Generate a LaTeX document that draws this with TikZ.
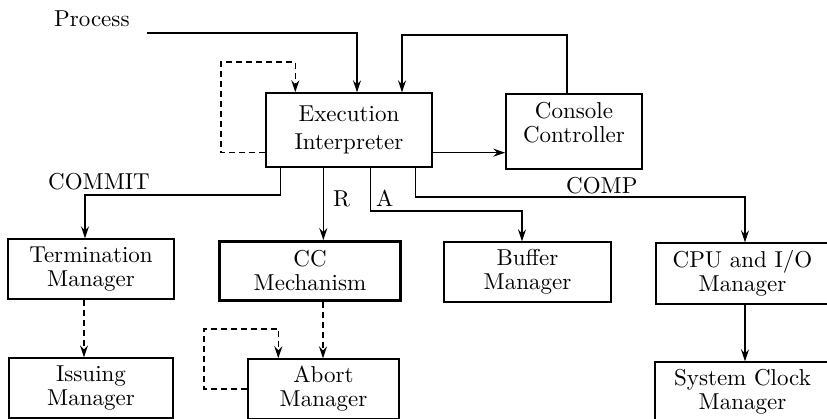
\documentclass[tikz,border=0pt]{standalone}
\usepackage{fontspec}
\setmainfont{lmroman10-regular}[Extension=.otf,BoldFont=lmroman10-bold]
\usetikzlibrary{arrows.meta,calc}
\begin{document}
\begin{tikzpicture}[x=1pt,y=-1pt,
  every node/.style={font=\fontsize{23}{24}\selectfont},
  box/.style={draw,line width=1.4pt,inner sep=0pt,align=center},
  lbl/.style={inner sep=0pt,anchor=base west},
  arr/.style={line width=1.4pt,-{Stealth[length=12pt,width=8pt,inset=4pt]}},
  darr/.style={arr,dash pattern=on 6pt off 4pt}]
\useasboundingbox (0,0) rectangle (827,419);
\clip (0,0) rectangle (827,419);
% boxes
\node[box,minimum width=166pt,minimum height=74pt,font=\fontsize{23}{28}\selectfont] (ei) at (349,130) {Execution\\Interpreter};
\node[box,minimum width=136pt,minimum height=75pt] (cc) at (574,131.5) {};
\node[align=center,inner sep=0pt] (cct) at (574,123) {Console\\Controller};
\node[box,minimum width=166pt,minimum height=60pt] (tm) at (91,269) {Termination\\Manager};
\node[box,line width=2.8pt,minimum width=181pt,minimum height=59pt] (ccm) at (310,271) {CC\\Mechanism};
\node[box,minimum width=167pt,minimum height=60pt] (bm) at (527.5,272) {Buffer\\Manager};
\node[box,minimum width=173pt,minimum height=61pt] (cpu) at (742.5,273.5) {CPU and I/O\\Manager};
\node[box,minimum width=164pt,minimum height=60pt] (im) at (91,388) {Issuing\\Manager};
\node[box,minimum width=151pt,minimum height=60pt] (am) at (323.5,389) {Abort\\Manager};
\node[box,minimum width=175pt,minimum height=60pt] (scm) at (742.5,392) {System Clock\\Manager};
% labels
\node[lbl] (proc) at (54,27) {Process};
\node[lbl] (commit) at (48,190) {COMMIT};
\node[lbl] (rl) at (333,207) {R};
\node[lbl] (al) at (376,207) {A};
\node[lbl] (comp) at (566,194) {COMP};
% top connectors
\coordinate (pin) at (147,33);
\draw[arr] (pin) -| ($(ei.north)+(8,0)$);
\coordinate (c0) at ($(cc.north)+(-7,0)$);
\coordinate (c1) at (402,35);
\draw[arr] (c0) |- (c1) -- (c1 |- ei.north);
\coordinate (d0) at ($(ei.south west)+(0,-15)$);
\coordinate (d1) at (221,62);
\coordinate (d2) at ($(ei.north west)+(30,0)$);
\draw[darr] (d0) -| (d1) -| (d2);
\coordinate (e1) at ($(ei.south east)+(0,-15)$);
\draw[arr] (e1) -- (e1 -| cc.west);
% lower connectors
\coordinate (m0) at ($(ei.south west)+(15,0)$);
\coordinate (m1) at (85,195);
\draw[arr] (m0) |- (m1) -- (m1 |- tm.north);
\coordinate (r0) at ($(ei.south west)+(58,0)$);
\draw[arr] (r0) -- (r0 |- ccm.north);
\coordinate (a0) at ($(ei.south west)+(105,0)$);
\coordinate (a1) at (522,211);
\draw[arr] (a0) |- (a1) -- (a1 |- bm.north);
\coordinate (p0) at ($(ei.south west)+(150,0)$);
\coordinate (p1) at (745,197);
\draw[arr] (p0) |- (p1) -- (p1 |- cpu.north);
\coordinate (t0) at ($(tm.south)+(-7,0)$);
\draw[darr] (t0) -- (t0 |- im.north);
\coordinate (k0) at ($(ccm.south)+(13,0)$);
\draw[darr] (k0) -- (k0 |- am.north);
\coordinate (b1) at (204,329);
\coordinate (b2) at ($(am.north west)+(31,0)$);
\draw[darr] (am.west) -| (b1) -| (b2);
\coordinate (s0) at (745,304);
\draw[arr] (s0) -- (s0 |- scm.north);
\end{tikzpicture}
\end{document}
